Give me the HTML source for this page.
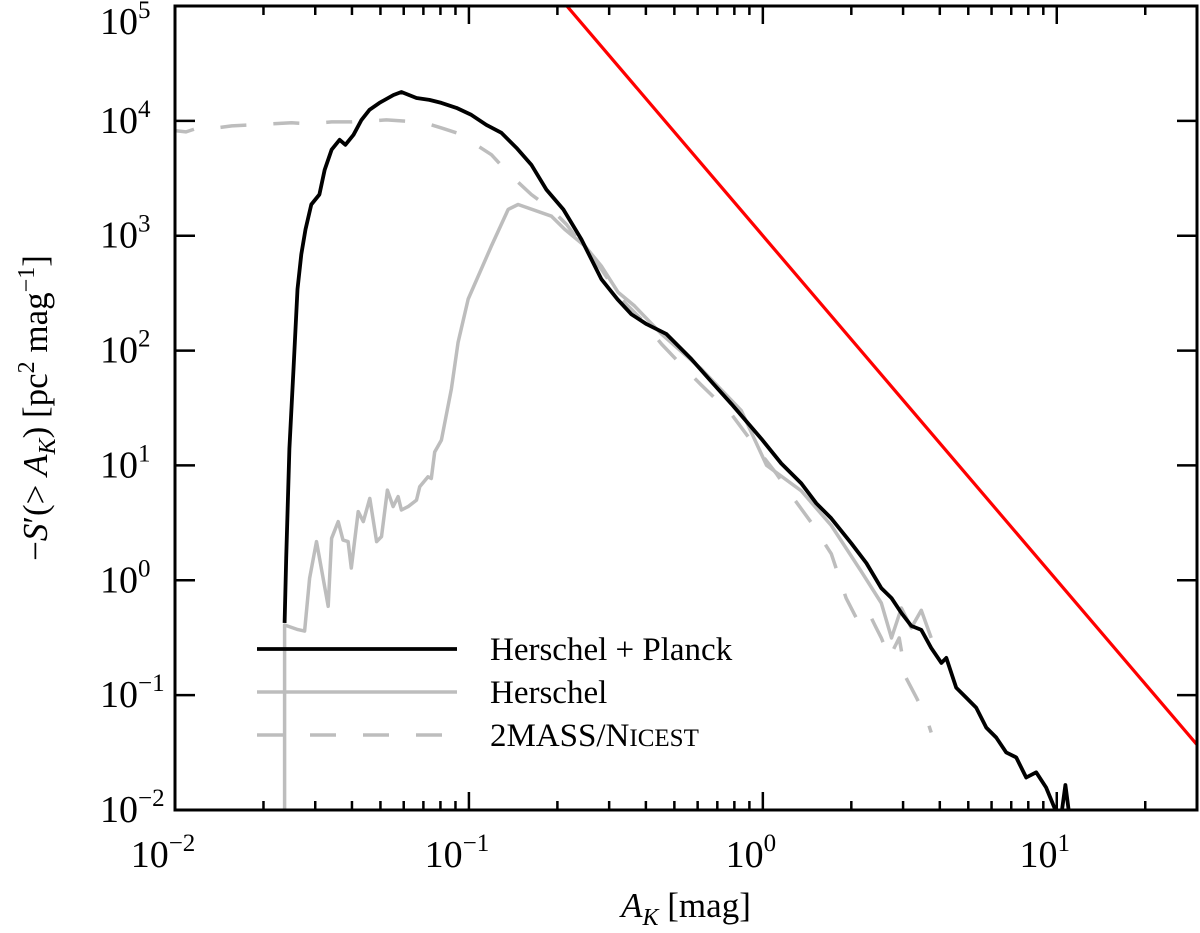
<!DOCTYPE html>
<html><head><meta charset="utf-8"><style>
html,body{margin:0;padding:0;background:#fff;}
svg{display:block;font-family:"Liberation Serif",serif;}
</style></head><body>
<svg id="chart" width="1200" height="933" viewBox="0 0 1200 933" xmlns="http://www.w3.org/2000/svg">
<defs><clipPath id="plotclip"><rect x="175" y="6" width="1022" height="804"/></clipPath></defs>
<g id="series" clip-path="url(#plotclip)"></g>
<g id="axes"></g>
<text x="686" y="917" font-size="35" text-anchor="middle"><tspan font-style="italic">A</tspan><tspan font-style="italic" font-size="24" dy="8">K</tspan><tspan dy="-8"> [mag]</tspan></text>
<text transform="translate(47,408) rotate(-90)" font-size="35" text-anchor="middle">−<tspan font-style="italic">S</tspan>′(&gt; <tspan font-style="italic">A</tspan><tspan font-style="italic" font-size="24" dy="8">K</tspan><tspan dy="-8">) [pc</tspan><tspan font-size="24" dy="-13">2</tspan><tspan dy="13"> mag</tspan><tspan font-size="24" dy="-13">−1</tspan><tspan dy="13">]</tspan></text>
<g>
<g><line x1="257" y1="649" x2="457" y2="649" stroke="#000" stroke-width="3.8"/><text x="490" y="660" font-size="33">Herschel + Planck</text></g>
<g><line x1="257" y1="692" x2="457" y2="692" stroke="#bdbdbd" stroke-width="3.5"/><text x="490" y="703" font-size="33">Herschel</text></g>
<g><line x1="257" y1="735" x2="457" y2="735" stroke="#bdbdbd" stroke-width="3.5" stroke-dasharray="26 27"/><text x="490" y="746" font-size="33">2MASS/N<tspan font-size="25">ICEST</tspan></text></g>
</g>
</svg>
<script>
const bpX=[0.0236,0.0239,0.0245,0.0253,0.0261,0.0269,0.0278,0.0291,0.0310,0.0323,0.0341,0.0363,0.0380,0.0405,0.0431,0.0459,0.0496,0.0554,0.0589,0.0663,0.0734,0.0806,0.0907,0.102,0.1147,0.129,0.145,0.163,0.1835,0.2096,0.2414,0.2823,0.320,0.357,0.402,0.470,0.571,0.679,0.781,0.988,1.156,1.352,1.52,1.71,2.00,2.25,2.53,2.74,2.96,3.20,3.46,3.74,4.05,4.21,4.55,4.92,5.32,5.76,6.22,6.73,7.28,7.87,8.51,9.20,9.80,10.3,10.7,11.1,11.6,12.0,12.6];
const bpY=[0.426,1.56,14.0,69,342,689,1135,1871,2283,3758,5610,6844,6194,7568,10200,12470,14330,16800,17830,15820,15210,14330,12970,11270,9230,7870,5830,4150,2520,1690,929,418,280,207,170,139,84.5,51.3,34.4,17.1,10.4,6.97,4.68,3.46,2.10,1.41,0.855,0.700,0.519,0.401,0.370,0.258,0.191,0.211,0.116,0.0951,0.0778,0.0522,0.0428,0.0317,0.0287,0.0192,0.0213,0.0157,0.0106,0.0080,0.0165,0.0080,0.0095,0.0085,0.0092];
const hX=[0.0236,0.0236,0.0262,0.0276,0.0287,0.0303,0.0332,0.0341,0.0359,0.0373,0.0388,0.0398,0.0420,0.0437,0.0460,0.0485,0.0504,0.0528,0.0552,0.0574,0.0589,0.0621,0.0663,0.0680,0.0726,0.0745,0.0765,0.0806,0.0872,0.0919,0.0994,0.1193,0.136,0.147,0.191,0.212,0.248,0.282,0.322,0.366,0.452,0.618,0.845,1.03,1.352,1.71,2.16,2.53,2.74,2.96,3.20,3.46,3.74];
const hY=[0.003,0.408,0.372,0.361,1.04,2.17,0.594,2.32,3.24,2.24,2.17,1.28,3.96,3.24,5.16,2.17,2.40,6.10,4.38,5.35,4.09,4.38,4.99,6.52,7.96,7.69,13.1,16.6,46.5,118,281,813,1694,1871,1479,1135,813,545,321,245,139,69,30,10.0,6.0,3.0,1.2,0.634,0.315,0.574,0.385,0.548,0.315];
const mX=[0.0095,0.0109,0.0123,0.0138,0.0156,0.0182,0.0213,0.0249,0.0291,0.0341,0.0398,0.0466,0.0524,0.0589,0.0689,0.0806,0.0907,0.102,0.1193,0.138,0.163,0.191,0.215,0.2414,0.2823,0.330,0.386,0.452,0.528,0.618,0.781,0.988,1.111,1.25,1.46,1.71,1.92,2.08,2.25,2.43,2.53,2.69,2.91,3.07,3.33,3.60,3.74];
const mY=[8350,8010,8870,8690,9040,9230,9420,9620,9420,9800,9800,10000,10200,10000,9800,8690,7870,6580,5070,3400,2283,1690,1253,841,510,280,188,114,75,50,28,12.5,8.51,5.5,3.2,1.7,0.700,0.470,0.574,0.385,0.315,0.211,0.315,0.142,0.0951,0.0638,0.0473];
const redCoef=1000, redExp=-3;
const xTickVals=[0.01,0.1,1,10];
const xTickExps=["−2","−1","0","1"];
const yTickVals=[1e-2,1e-1,1,10,100,1e3,1e4,1e5];
const yTickExps=["−2","−1","0","1","2","3","4","5"];

const L=175,R=1197,T=6,B=810;
const xMin=-2,xMax=Math.log10(30),yMin=-2,yMax=5;
const sx=v=>L+(Math.log10(v)-xMin)/(xMax-xMin)*(R-L);
const sy=v=>B-(Math.log10(v)-yMin)/(yMax-yMin)*(B-T);
const NS="http://www.w3.org/2000/svg";
const g=document.getElementById('series'), ax=document.getElementById('axes');
function mk(t,a,p){const e=document.createElementNS(NS,t);for(const k in a)e.setAttribute(k,a[k]);p.appendChild(e);return e;}
function path(xs,ys){return xs.map((x,i)=>(i?'L':'M')+sx(x).toFixed(1)+','+sy(ys[i]).toFixed(1)).join('');}

const red=mk('path',{d:'M'+sx(0.01)+','+sy(redCoef*Math.pow(0.01,redExp))+'L'+sx(30)+','+sy(redCoef*Math.pow(30,redExp)),stroke:'#f00','stroke-width':3.2,fill:'none'},g);


const m=mk('path',{d:path(mX,mY),stroke:'#bdbdbd','stroke-width':3.5,fill:'none','stroke-dasharray':'26 27','stroke-linejoin':'round'},g);


const h=mk('path',{d:path(hX,hY),stroke:'#bdbdbd','stroke-width':3.5,fill:'none','stroke-linejoin':'round'},g);


const b=mk('path',{d:path(bpX,bpY),stroke:'#000','stroke-width':3.8,fill:'none','stroke-linejoin':'round'},g);



const frame=mk('rect',{x:L,y:T,width:R-L,height:B-T,fill:'none',stroke:'#000','stroke-width':3},ax);


for(let d=-2;d<=1;d++){for(let k=1;k<=9;k++){const v=k*Math.pow(10,d);if(v>30)break;const x=sx(v);const len=k===1?18:9;
 const t1=mk('line',{x1:x,y1:B,x2:x,y2:B-len,stroke:'#000','stroke-width':2.5},ax);
 
 
 const t2=mk('line',{x1:x,y1:T,x2:x,y2:T+len,stroke:'#000','stroke-width':2.5},ax);
 
 }}
xTickVals.forEach((v,i)=>{const t=mk('text',{x:sx(v)-12,y:867,'font-size':38,'text-anchor':'middle'},ax);t.textContent='10';
 
 
 const s=mk('tspan',{'font-size':25,dy:-16},t);s.textContent=xTickExps[i];});
yTickVals.forEach((v,i)=>{const y=sy(v);
 const t1=mk('line',{x1:L,y1:y,x2:L+20,y2:y,stroke:'#000','stroke-width':2.5},ax);
 
 
 const t2=mk('line',{x1:R,y1:y,x2:R-20,y2:y,stroke:'#000','stroke-width':2.5},ax);
 
 
 const ly=Math.max(y+12,34);
 const t=mk('text',{x:100,y:ly,'font-size':38},ax);t.textContent='10';
 
 
 const s=mk('tspan',{'font-size':25,dy:-16},t);s.textContent=yTickExps[i];});
</script>
</body></html>
